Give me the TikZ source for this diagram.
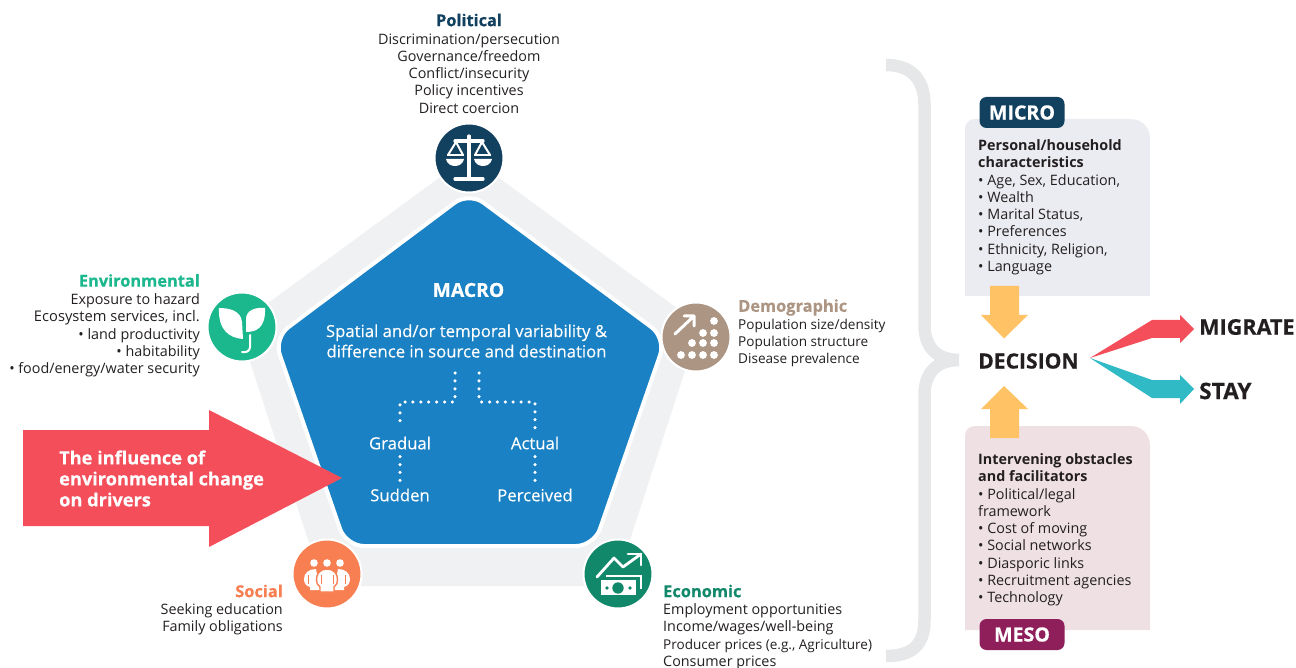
\documentclass[tikz,border=0pt]{standalone}
\usepackage{fontspec}
\setmainfont{Open Sans}
\newfontfamily\xb[BoldFeatures={FakeBold=0.5}]{Open Sans}
\newfontfamily\semi[FakeBold=0.25]{Open Sans}
\usetikzlibrary{calc}
\definecolor{navy}{HTML}{12405F}
\definecolor{macroblue}{HTML}{1A81C4}
\definecolor{greenE}{HTML}{1BB78D}
\definecolor{taupe}{HTML}{AC9583}
\definecolor{coral}{HTML}{F77F52}
\definecolor{greenD}{HTML}{12886B}
\definecolor{redA}{HTML}{F34E5A}
\definecolor{tealA}{HTML}{2FBAC6}
\definecolor{amber}{HTML}{FFC365}
\definecolor{paleG}{HTML}{F0F1F3}
\definecolor{boxG}{HTML}{EBECF1}
\definecolor{boxP}{HTML}{EEE0E3}
\definecolor{braceG}{HTML}{E6E7E8}
\definecolor{mesoC}{HTML}{8E1F5B}
\definecolor{txt}{HTML}{231F20}
\tikzset{
  x=1pt,y=-1pt,
  body/.style={font=\fontsize{14.35}{17.25}\selectfont,text=txt,inner sep=0pt,align=#1},
  body/.default=left,
  head/.style={font=\fontsize{16.4}{17.2}\xb\bfseries,inner sep=0pt},
  wht/.style={font=\fontsize{16.7}{20.4}\semi,text=white,inner sep=0pt,align=center},
  icon/.style={circle,minimum size=69pt,inner sep=0pt,draw=white,line width=2pt},
  dots/.style={draw=white,line width=3.5pt,dash pattern=on 0pt off 7.9pt,line cap=round},
  big/.style={text=txt,inner sep=0pt},
  badge/.style={rounded corners=7pt,minimum width=85pt,minimum height=31pt,inner sep=0pt,text=white,font=\fontsize{19.6}{20}\xb\bfseries},
  ic/.style={draw=white,line width=2.8pt,line cap=round,line join=round},
  bracestroke/.style={draw=braceG,line width=12.5pt,line cap=butt}
}
\begin{document}
\begin{tikzpicture}
\useasboundingbox (0,0) rectangle (1296,668);
% pentagons
\fill[paleG] (469,156) -- (700,325) -- (615,586) -- (323,586) -- (238,325) -- cycle;
\draw[white,line width=4pt,fill=macroblue,rounded corners=18pt,line join=round] (469,192) -- (666,338) -- (594,546) -- (346,546) -- (274,338) -- cycle;
% icons
\node[icon,fill=navy] (pol) at (469,158) {};
\node[icon,fill=greenE] (env) at (242,327) {};
\node[icon,fill=taupe] (dem) at (696,337) {};
\node[icon,fill=coral] (soc) at (327,574) {};
\node[icon,fill=greenD] (eco) at (618,574) {};
% scales
\begin{scope}[shift={(pol.center)}]
 \draw[ic,line width=3.2pt] (0,-22) -- (0,21) (-14,21) -- (14,21) (-14,-17) -- (14,-17);
 \draw[ic,line width=2pt,line cap=butt] (-21,-3) -- (-13,-16) -- (-6,-3) (6,-3) -- (13,-16) -- (21,-3);
 \draw[white,line width=2pt] (-22,-3) -- (-5,-3) (5,-3) -- (22,-3);
 \foreach \s in {-1,1}{
 \fill[white] (\s*23,1) -- (\s*5,1) .. controls (\s*6,6) and (\s*10,8) .. (\s*14,8) .. controls (\s*18,8) and (\s*22,6) .. (\s*23,1) -- cycle;}
\end{scope}
% sprout
\begin{scope}[shift={(env.center)}]
 \fill[white] (-23,-19) .. controls (-14,-19) and (-1,-17) .. (0,-5) -- (1,12) .. controls (-12,11) and (-24,4) .. (-23,-19) -- cycle;
 \fill[white] (23,-19) .. controls (14,-20) and (4,-17) .. (4,-8) -- (4,5) .. controls (13,5) and (24,2) .. (23,-19) -- cycle;
 \draw[ic,line width=2pt] (8,8) -- (8,20) .. controls (8,24) and (4,26) .. (0,25);
\end{scope}
% demographic
\begin{scope}[shift={(dem.center)}]
 \draw[ic,line width=3pt] (-21,-3) -- (-2,-21) (-12,-21) -- (-2,-21) -- (-2,-11);
 \foreach \px/\py in {-15/18,-4/18,7/18,18/18,-4/6,7/6,18/6,7/-4,18/-4,18/-16}{
   \fill[white] (\px+0,\py+0) circle (3.9pt);}
\end{scope}
% social
\begin{scope}[shift={(soc.center)}]
 \foreach \px in {-13,0,13}{\fill[white] (\px,-11) circle (3.8pt);}
 \foreach \s in {-1,1}{
 \fill[white] (\s*23,5) .. controls (\s*23,-1) and (\s*18,-5) .. (\s*11,-5) -- (\s*7,16) -- (\s*17,16) -- (\s*17,13) .. controls (\s*21,12) and (\s*23,9) .. (\s*23,5) -- cycle;
 \fill[coral] (\s*19,1) rectangle (\s*18,10);}
 \draw[coral,line width=1.4pt,fill=white] (0,-5) .. controls (-7,-5) and (-10.5,0) .. (-10.5,5) .. controls (-10.5,9) and (-9,12) .. (-7,13) -- (-7,18) -- (7,18) -- (7,13) .. controls (9,12) and (10.5,9) .. (10.5,5) .. controls (10.5,0) and (7,-5) .. (0,-5) -- cycle;
 \fill[coral] (-6.5,1) rectangle (-5.5,10);
 \fill[coral] (5.5,1) rectangle (6.5,10);
\end{scope}
% economic
\begin{scope}[shift={(eco.center)}]
 \draw[ic] (-21,3) -- (-4,-16) -- (5,-7) -- (23,-20);
 \draw[ic] (10,-20) -- (23,-20) -- (23,-9);
 \draw[white,line width=1.6pt] (-12,2) -- (23,2) -- (23,15);
 \fill[white] (-17,6) rectangle (18,21);
 \fill[greenD] (0,14) circle (5.7pt);
 \fill[greenD] (-11,14) circle (1.8pt) (12,14) circle (1.8pt);
\end{scope}
% MACRO text
\node[wht,font=\fontsize{19.3}{20}\xb\bfseries] (macro) at (468.5,290) {MACRO};
\node[wht] (var) at (466.5,341) {Spatial and/or temporal variability \&\\difference in source and destination};
\node[wht] (grad) at (400,443) {Gradual};
\node[wht] (sudd) at (400,495) {Sudden};
\node[wht] (act) at (535,443) {Actual};
\node[wht] (perc) at (535,495) {Perceived};
\coordinate (jl) at (455,373);
\coordinate (jr) at (479,373);
\draw[dots,shorten >=8pt] (jl) -- (455,402) -- (400,402) -- (grad.north);
\draw[dots,shorten >=8pt] (jr) -- (479,402) -- (535,402) -- (act.north);
\draw[dots,shorten <=7pt,shorten >=6pt] (grad.south) -- (sudd.north);
\draw[dots,shorten <=7pt,shorten >=6pt] (act.south) -- (act.south |- perc.north);
% Red arrow
\fill[redA] (23,430) -- (209,430) -- (209,410) -- (342,478) -- (209,547) -- (209,526) -- (23,526) -- cycle;
\node[inner sep=0pt,align=left,anchor=west,text=white,font=\fontsize{18.2}{21}\xb\bfseries] (infl) at (59,478.5) {The influence of\\environmental change\\on drivers};
% Political text
\node[head,text=navy] (tpol) at (469,20) {Political};
\node[body=center,anchor=north] (lpol) at (469,33.5) {Discrimination/persecution\\Governance/freedom\\Conflict/insecurity\\Policy incentives\\Direct coercion};
% Environmental
\node[head,text=greenE,anchor=east] (tenv) at (200,280.5) {Environmental};
\node[body=right,anchor=north east] (lenv) at (200,293.5) {Exposure to hazard\\{\fontsize{14.7}{17.25}\selectfont Ecosystem services, incl.}\\• land productivity\\• habitability\\• food/energy/water security};
% Demographic
\node[head,text=taupe,anchor=west] (tdem) at (738,307.5) {Demographic};
\node[body=left,anchor=north west,font=\fontsize{13.6}{17.25}\selectfont] (ldem) at (738,318.5) {Population size/density\\Population structure\\Disease prevalence};
% Social
\node[head,text=coral,anchor=east] (tsoc) at (283,591) {Social};
\node[body=right,anchor=north east] (lsoc) at (283,603.5) {Seeking education\\Family obligations};
% Economic
\node[head,text=greenD,anchor=west] (teco) at (663,591) {Economic};
\node[body=left,anchor=north west] (leco) at (663,603.5) {Employment opportunities\\Income/wages/well-being\\{\fontsize{13.55}{17.25}\selectfont Producer prices (e.g., Agriculture)}\\Consumer prices};
% brace
\draw[bracestroke] (886,65) .. controls (912,65) and (924.5,80) .. (924.5,105) -- (924.5,325) .. controls (924.5,350) and (940,360) .. (959,360);
\draw[bracestroke] (959,360) .. controls (940,360) and (924.5,370) .. (924.5,395) -- (924.5,620) .. controls (924.5,645) and (912,656) .. (886,656);
% boxes
\fill[boxG] (965,296) -- (965,129) .. controls (965,123) and (969,119) .. (975,119) -- (1130,119) .. controls (1142,119) and (1150,127) .. (1150,139) -- (1150,296) -- cycle;
\fill[boxP] (965,630) -- (965,436) .. controls (965,430) and (969,426) .. (975,426) -- (1130,426) .. controls (1142,426) and (1150,434) .. (1150,446) -- (1150,630) -- cycle;
\node[badge,fill=navy] (micro) at (1022,112.5) {MICRO};
\node[badge,fill=mesoC] (meso) at (1022,634.5) {MESO};
\node[body=left,anchor=north west] (lmic) at (978,139.5) {\textbf{Personal/household}\\\textbf{characteristics}\\• Age, Sex, Education,\\• Wealth\\• Marital Status,\\• Preferences\\• Ethnicity, Religion,\\• Language};
\node[body=left,anchor=north west] (lmes) at (978,453.5) {\textbf{Intervening obstacles}\\\textbf{and facilitators}\\• Political/legal\\framework\\• Cost of moving\\• Social networks\\• Diasporic links\\• Recruitment agencies\\• Technology};
% decision
\node[big,anchor=west,font=\fontsize{21.1}{24}\xb\bfseries] (dec) at (978,361) {DECISION};
\node[big,anchor=west,font=\fontsize{21.6}{24}\xb\bfseries] (mig) at (1199,327) {MIGRATE};
\node[big,anchor=west,font=\fontsize{22.6}{24}\xb\bfseries] (stay) at (1199,391) {STAY};
\fill[amber] (990,286) -- (1019,286) -- (1019,315) -- (1028,315) -- (1004,338.5) -- (981,315) -- (990,315) -- cycle;
\fill[amber] (990,438) -- (1019,438) -- (1019,409) -- (1028,409) -- (1004,386) -- (981,409) -- (990,409) -- cycle;
\coordinate (fork) at (1090,358);
\fill[redA] (fork) -- (1152,320) -- (1180,320) -- (1180,315) -- (1194,329) -- (1180,343) -- (1180,338) -- (1152,338) -- cycle;
\fill[tealA] (fork) -- (1152,380) -- (1180,380) -- (1180,375) -- (1194,389) -- (1180,404) -- (1180,398) -- (1152,398) -- cycle;
\end{tikzpicture}
\end{document}
